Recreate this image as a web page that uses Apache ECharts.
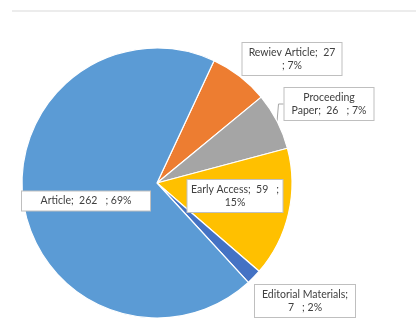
<!DOCTYPE html>
<html>
<head>
<meta charset="utf-8">
<script src="https://cdn.jsdelivr.net/npm/echarts@6/dist/echarts.min.js"></script>
<style>html,body{margin:0;padding:0;background:#fff}#c{width:416px;height:321px}</style>
</head>
<body>
<div id="c"></div>
<script>
const categories = ['Rewiev Article', 'Proceeding Paper', 'Early Access', 'Editorial Materials', 'Article'];
const values = [27, 26, 59, 7, 262];
const percents = ['7%', '7%', '15%', '2%', '69%'];
const labelTexts = [
  'Rewiev Article;  27\n; 7%',
  'Proceeding\nPaper;  26   ; 7%',
  'Early Access;  59   ;\n15%',
  'Editorial Materials;\n7   ; 2%',
  'Article;  262   ; 69%'
];
const colors = ['#ed7d31', '#a5a5a5', '#ffc000', '#4472c4', '#5b9bd5'];

const labelSpots = [
  {x: 292, y: 59, w: 91},
  {x: 329, y: 104, w: 81},
  {x: 235, y: 196, w: 87},
  {x: 305, y: 301, w: 92},
  {x: 86, y: 201, w: 120}
];

const chart = echarts.init(document.getElementById('c'), null, {renderer: 'canvas'});
chart.setOption({
  animation: false,
  graphic: [{
    type: 'line', shape: {x1: 12, y1: 11, x2: 416, y2: 11},
    style: {stroke: '#d9d9d9', lineWidth: 1}
  }],
  series: [{
    type: 'pie',
    center: [157, 183],
    radius: 135,
    startAngle: 65,
    clockwise: true,
    avoidLabelOverlap: false,
    itemStyle: {borderColor: '#fff', borderWidth: 1.2},
    data: categories.map((c, i) => ({
      name: c,
      value: values[i],
      itemStyle: {color: colors[i]},
      label: {width: labelSpots[i].w},
      labelLine: {show: i === 1, lineStyle: {color: '#a6a6a6', width: 1}}
    })),
    label: {
      show: true,
      position: 'outside',
      formatter: p => labelTexts[p.dataIndex],
      fontFamily: 'Lato, "Open Sans", sans-serif',
      fontSize: 10.5,
      lineHeight: 13,
      color: '#404040',
      align: 'center',
      overflow: 'none',
      backgroundColor: '#fff',
      borderColor: '#bfbfbf',
      borderWidth: 1,
      padding: [3, 4]
    },
    labelLine: {length: 5, length2: 5},
    labelLayout: p => ({
      x: labelSpots[p.dataIndex].x,
      y: labelSpots[p.dataIndex].y,
      align: 'center',
      verticalAlign: 'middle'
    })
  }]
});
</script>
</body>
</html>
